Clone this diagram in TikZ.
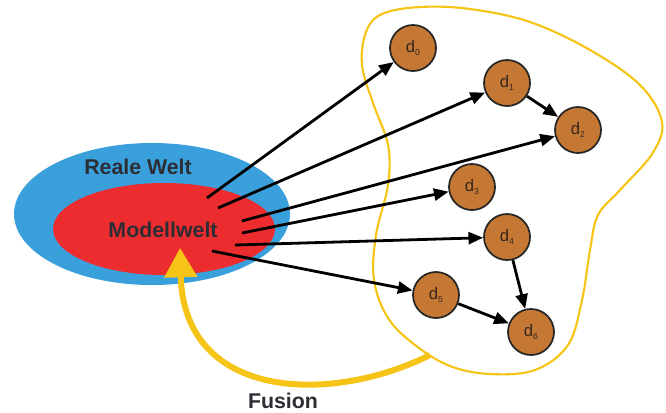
\documentclass[tikz,border=0pt]{standalone}
\usepackage{fontspec}
\setmainfont{Liberation Sans}
\usetikzlibrary{arrows.meta}
\definecolor{skyblue}{RGB}{58,160,220}
\definecolor{modelred}{RGB}{236,44,46}
\definecolor{nodebrown}{RGB}{196,120,52}
\definecolor{fusionyellow}{RGB}{246,196,22}
\definecolor{textgray}{RGB}{45,45,52}
\definecolor{labelbrown}{RGB}{55,40,30}
\tikzset{
  dnode/.style={circle, draw=black!85, line width=1.3pt, fill=nodebrown,
    minimum size=34.5pt, inner sep=0pt, text=labelbrown,
    font=\fontsize{12.5}{14}\selectfont},
  flow/.style={line width=2.1pt, draw=black, -{Triangle[length=11pt,width=9pt]}},
  bigtext/.style={font=\fontsize{16}{19}\selectfont\bfseries, text=textgray},
}
\newcommand{\dsub}[1]{d\raisebox{-0.4ex}{\fontsize{6.5}{7}\selectfont #1}}
\begin{document}
\begin{tikzpicture}[x=0.75pt,y=-0.75pt]
\useasboundingbox (0,0) rectangle (666,412);
% blob
\draw[fusionyellow, line width=1.6pt] plot[smooth cycle, tension=0.6] coordinates {
 (366,32) (382,14) (420,7) (470,9) (530,22) (590,50) (640,85) (662,122)
 (652,154) (620,190) (598,215) (590,250) (582,300) (568,345) (535,370)
 (490,374) (450,366) (415,345) (388,318) (374,280) (376,235) (388,185)
 (388,145) (373,103) (362,65)};
% ellipses
\fill[skyblue] (152,214) ellipse [x radius=138, y radius=71];
\fill[modelred] (164,229) ellipse [x radius=111, y radius=46];
\node[bigtext] (reale) at (138,167) {Reale Welt};
\node[bigtext] (modell) at (163,230) {Modellwelt};
% fusion arrow
\coordinate (fstart) at (430,355);
\coordinate (ftip) at (180,248);
\draw[fusionyellow, line width=4.5pt, -{Triangle[length=22pt,width=24pt]}]
  (fstart) .. controls (330,405) and (184,400) .. (ftip);
\node[bigtext] (fusion) at (283,401) {Fusion};
% nodes
\node[dnode] (d0) at (413,48) {\dsub{0}};
\node[dnode] (d1) at (507,83) {\dsub{1}};
\node[dnode] (d2) at (578,130) {\dsub{2}};
\node[dnode] (d3) at (472,187) {\dsub{3}};
\node[dnode] (d4) at (507,237) {\dsub{4}};
\node[dnode] (d5) at (436,295) {\dsub{5}};
\node[dnode] (d6) at (531,332) {\dsub{6}};
% start points
\coordinate (s0) at (207,198);
\coordinate (s1) at (218,208);
\coordinate (s2) at (242,221);
\coordinate (s3) at (242,233);
\coordinate (s4) at (235,245);
\coordinate (s5) at (212,251);
\draw[flow] (s0) -- (d0);
\draw[flow] (s1) -- (d1);
\draw[flow] (s2) -- (d2);
\draw[flow] (s3) -- (d3);
\draw[flow] (s4) -- (d4);
\draw[flow] (s5) -- (d5);
\draw[flow] (d1) -- (d2);
\draw[flow] (d4) -- (d6);
\draw[flow] (d5) -- (d6);
\end{tikzpicture}
\end{document}
